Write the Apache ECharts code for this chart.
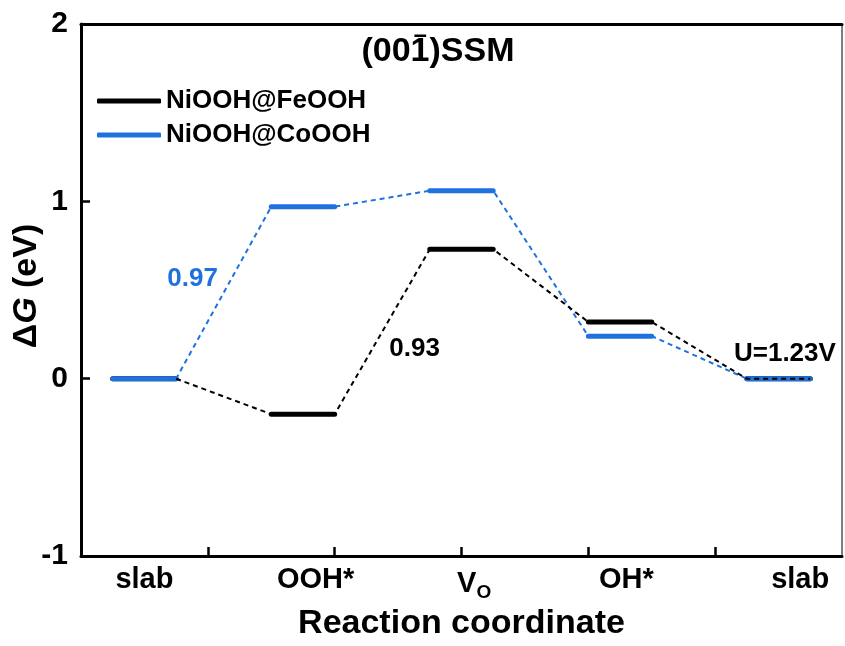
<!DOCTYPE html>
<html>
<head>
<meta charset="utf-8">
<script src="https://cdn.jsdelivr.net/npm/echarts@6/dist/echarts.min.js"></script>
<style>html,body{margin:0;padding:0;background:#fff}#c{width:845px;height:646px}</style>
</head>
<body>
<div id="c"></div>
<script>
// ---- data ----
const stepLabels = ['slab', 'OOH*', 'V_O', 'OH*', 'slab'];
const stepCenters = [0.5, 1.75, 3, 4.25, 5.5];
const feValues = [0, -0.20, 0.73, 0.32, 0];
const coValues = [0, 0.97, 1.06, 0.24, 0];
const labelPositions = [0.5, 1.85, 3.1, 4.3, 5.67];
const xTickValues = [1, 2, 3, 4, 5];
const yTickValues = [-1, 0, 1, 2];
const seriesNames = ['NiOOH@FeOOH', 'NiOOH@CoOOH'];
const annoText = ['0.97', '0.93', 'U=1.23V'];
const annoX = [0.88, 2.63, 5.55];
const annoY = [0.565, 0.17, 0.14];

const FONT = '"Liberation Sans", Arial, Helvetica, sans-serif';
const BLUE = '#1f72de';
const BLACK = '#000000';
const HW = 0.25;

function levelData(vals) {
  const d = [];
  vals.forEach((v, i) => {
    if (i > 0) d.push([stepCenters[i] - HW - 0.01, '-']);
    d.push([stepCenters[i] - HW, v]);
    d.push([stepCenters[i] + HW, v]);
  });
  return d;
}
function pathData(vals, skipFirst) {
  const d = [];
  vals.forEach((v, i) => {
    if (!(skipFirst && i === 0)) d.push([stepCenters[i] - HW, v]);
    d.push([stepCenters[i] + HW, v]);
  });
  return d;
}

const chart = echarts.init(document.getElementById('c'), null, {renderer: 'canvas'});
const annoColors = [BLUE, BLACK, BLACK];

const option = {
  animation: false,
  backgroundColor: '#fff',
  textStyle: {fontFamily: FONT},
  grid: {left: 81, right: 3, top: 24, bottom: 83.5, containLabel: false},
  legend: {
    orient: 'vertical', left: 92, top: 83, itemWidth: 64, itemHeight: 5, itemGap: 8,
    icon: 'roundRect',
    data: seriesNames,
    textStyle: {fontFamily: FONT, fontSize: 26, fontWeight: 'bold', color: '#000', lineHeight: 26},
    selectedMode: false
  },
  xAxis: [{
    type: 'value', min: 0, max: 6, interval: 1, position: 'bottom',
    axisLine: {show: true, onZero: false, lineStyle: {color: '#000', width: 3}},
    axisTick: {show: true, inside: true, length: 9, lineStyle: {color: '#000', width: 2.5}, customValues: xTickValues},
    axisLabel: {
      show: true, customValues: labelPositions, margin: 9, color: '#000',
      fontFamily: FONT, fontSize: 29, fontWeight: 'bold',
      formatter: function (v) {
        let idx = 0, best = 1e9;
        labelPositions.forEach((p, i) => { if (Math.abs(p - v) < best) { best = Math.abs(p - v); idx = i; } });
        const s = stepLabels[idx];
        if (s === 'V_O') return '{v|V}{s|O}';
        return s;
      },
      rich: {
        v: {fontFamily: FONT, fontSize: 29, fontWeight: 'bold', color: '#000'},
        s: {fontFamily: FONT, fontSize: 19, fontWeight: 'bold', color: '#000', padding: [18, 0, 0, 0]}
      }
    },
    splitLine: {show: false},
    name: 'Reaction coordinate', nameLocation: 'middle', nameGap: 46,
    nameTextStyle: {fontFamily: FONT, fontSize: 34, fontWeight: 'bold', color: '#000'}
  }, {
    type: 'value', min: 0, max: 6, position: 'top',
    axisLine: {show: true, onZero: false, lineStyle: {color: '#000', width: 3}},
    axisTick: {show: false}, axisLabel: {show: false}, splitLine: {show: false}
  }],
  yAxis: [{
    type: 'value', min: -1, max: 2, interval: 1, position: 'left',
    axisLine: {show: true, onZero: false, lineStyle: {color: '#000', width: 3}},
    axisTick: {show: true, inside: true, length: 9, lineStyle: {color: '#000', width: 2.5}, customValues: yTickValues},
    axisLabel: {show: true, margin: 13, color: '#000', fontFamily: FONT, fontSize: 30, fontWeight: 'bold'},
    splitLine: {show: false}
  }, {
    type: 'value', min: -1, max: 2, position: 'right',
    axisLine: {show: true, onZero: false, lineStyle: {color: '#555', width: 1.5}},
    axisTick: {show: false}, axisLabel: {show: false}, splitLine: {show: false}
  }],
  series: [
    {name: seriesNames[0], type: 'line', data: levelData(feValues), showSymbol: false, symbol: 'none',
     color: BLACK, lineStyle: {color: BLACK, width: 5, cap: 'round'}, connectNulls: false, z: 3, silent: true},
    {name: seriesNames[1], type: 'line', data: levelData(coValues), showSymbol: false, symbol: 'none',
     color: BLUE, lineStyle: {color: BLUE, width: 5, cap: 'round'}, connectNulls: false, z: 4, silent: true},
    {name: 'co-path', type: 'line', data: pathData(coValues, false), showSymbol: false, symbol: 'none',
     lineStyle: {color: BLUE, width: 2, type: [5, 4]}, z: 5, silent: true},
    {name: 'fe-path', type: 'line', data: pathData(feValues, true), showSymbol: false, symbol: 'none',
     lineStyle: {color: BLACK, width: 2, type: [5, 4]}, z: 6, silent: true}
  ]
};
chart.setOption(option);

// measured overline over the "1" in the title
const ctx = document.createElement('canvas').getContext('2d');
const titleFont = 'bold 34px ' + FONT;
ctx.font = titleFont;
const wPre = ctx.measureText('(00').width;
const wOne = ctx.measureText('1').width;
const wAll = ctx.measureText('(001)SSM').width;
const titleCx = 438, titleCy = 52;
const tx0 = titleCx - wAll / 2;

const graphics = [
  {type: 'text', x: tx0, y: titleCy, style: {text: '(001)SSM', font: titleFont, fill: '#000', align: 'left', verticalAlign: 'middle', textAlign: 'left', textVerticalAlign: 'middle'}},
  {type: 'rect', shape: {x: tx0 + wPre + wOne * 0.2, y: titleCy - 17.5, width: wOne * 0.62, height: 2.5}, style: {fill: '#000'}},
  {type: 'text', x: 27, y: 286, rotation: Math.PI / 2,
   style: {text: '{a|Δ}{g|G}{a| (eV)}', align: 'center', verticalAlign: 'middle', textAlign: 'center', textVerticalAlign: 'middle',
     rich: {a: {fontFamily: FONT, fontSize: 34, fontWeight: 'bold', fill: '#000', color: '#000'},
            g: {fontFamily: FONT, fontSize: 34, fontWeight: 'bold', fontStyle: 'italic', fill: '#000', color: '#000'}}}}
];
annoText.forEach((t, i) => {
  const p = chart.convertToPixel({xAxisIndex: 0, yAxisIndex: 0}, [annoX[i], annoY[i]]);
  graphics.push({type: 'text', x: p[0], y: p[1], z: 10,
    style: {text: t, font: 'bold 26px ' + FONT, fill: annoColors[i], align: 'center', verticalAlign: 'middle', textAlign: 'center', textVerticalAlign: 'middle'}});
});
chart.setOption({graphic: {elements: graphics}});
</script>
</body>
</html>
